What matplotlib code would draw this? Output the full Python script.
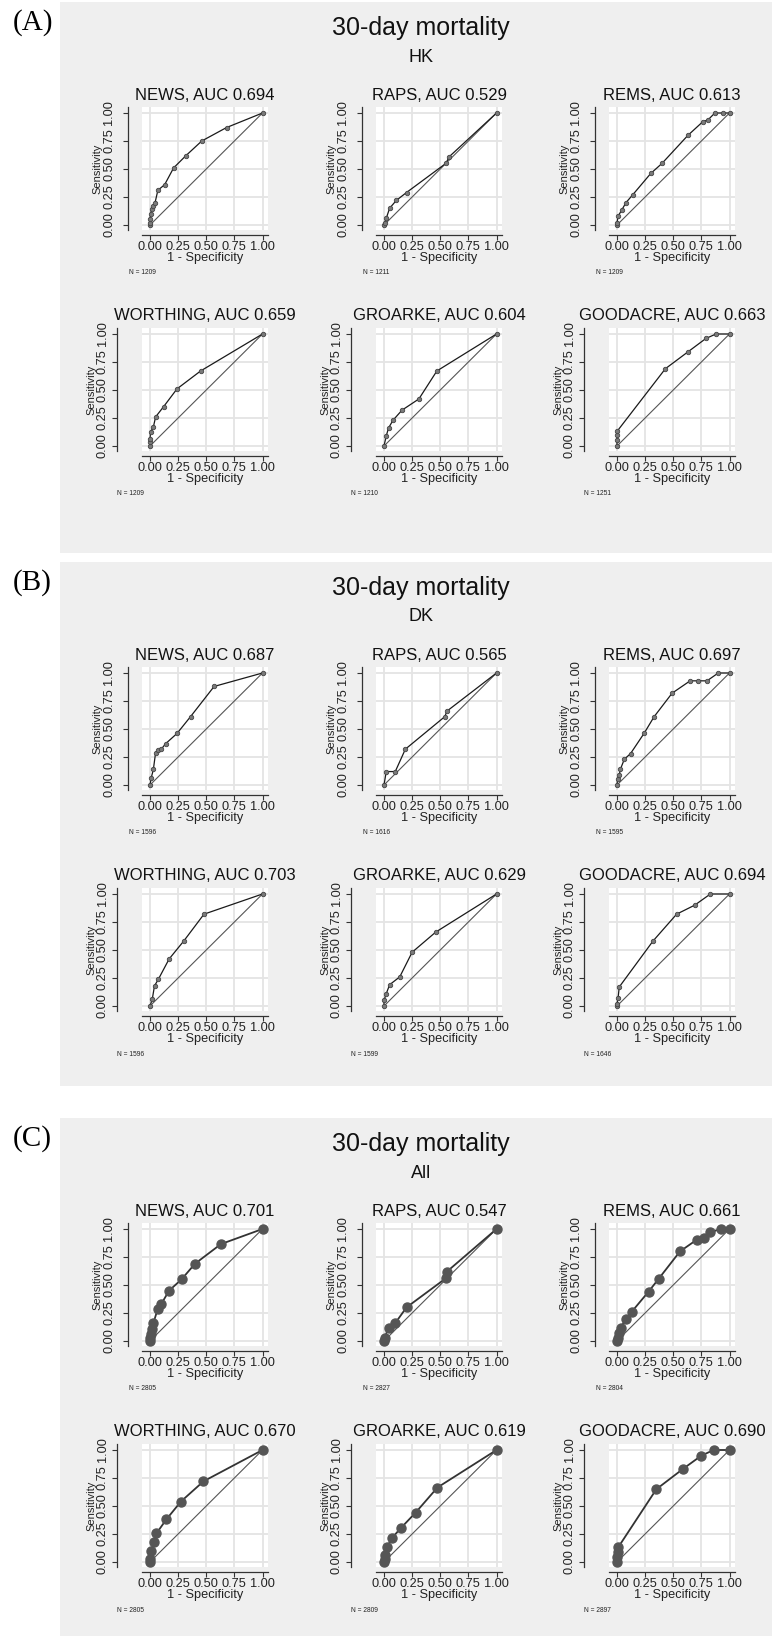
import matplotlib
matplotlib.use("Agg")
import matplotlib.pyplot as plt
from matplotlib.patches import Rectangle

# ---- data ----
scores = ['NEWS', 'RAPS', 'REMS', 'WORTHING', 'GROARKE', 'GOODACRE']

auc_hk = [0.694, 0.529, 0.613, 0.659, 0.604, 0.663]
n_hk = [1209, 1211, 1209, 1209, 1210, 1251]
auc_dk = [0.687, 0.565, 0.697, 0.703, 0.629, 0.694]
n_dk = [1596, 1616, 1595, 1596, 1599, 1646]
auc_all = [0.701, 0.547, 0.661, 0.670, 0.619, 0.690]
n_all = [2805, 2827, 2804, 2805, 2809, 2897]

# (1 - specificity, sensitivity)
hk_news = ([0, 0, 0, 0.005, 0.015, 0.03, 0.045, 0.07, 0.13, 0.21, 0.32, 0.46, 0.68, 1],
           [0, 0.02, 0.05, 0.1, 0.14, 0.17, 0.2, 0.31, 0.36, 0.51, 0.62, 0.75, 0.87, 1])
hk_raps = ([0, 0.005, 0.02, 0.05, 0.11, 0.2, 0.55, 0.58, 1],
           [0, 0.02, 0.06, 0.15, 0.22, 0.29, 0.55, 0.61, 1])
hk_rems = ([0, 0, 0.01, 0.04, 0.08, 0.14, 0.3, 0.4, 0.63, 0.76, 0.81, 0.87, 0.94, 1],
           [0, 0.02, 0.08, 0.13, 0.2, 0.27, 0.46, 0.55, 0.8, 0.92, 0.94, 1, 1, 1])
hk_worthing = ([0, 0, 0, 0.005, 0.03, 0.05, 0.12, 0.24, 0.45, 1],
               [0, 0.035, 0.06, 0.125, 0.17, 0.26, 0.35, 0.51, 0.67, 1])
hk_groarke = ([0, 0.02, 0.04, 0.08, 0.16, 0.31, 0.47, 1],
              [0, 0.09, 0.16, 0.23, 0.32, 0.42, 0.67, 1])
hk_goodacre = ([0, 0, 0, 0, 0.43, 0.63, 0.79, 0.88, 1],
               [0, 0.05, 0.1, 0.13, 0.69, 0.84, 0.96, 1, 1])

dk_news = ([0, 0.01, 0.03, 0.05, 0.075, 0.1, 0.14, 0.24, 0.36, 0.57, 1],
           [0, 0.06, 0.14, 0.29, 0.31, 0.32, 0.37, 0.46, 0.61, 0.88, 1])
dk_raps = ([0, 0.02, 0.1, 0.19, 0.54, 0.56, 1],
           [0, 0.12, 0.12, 0.32, 0.61, 0.66, 1])
dk_rems = ([0, 0.005, 0.02, 0.03, 0.065, 0.12, 0.24, 0.33, 0.49, 0.65, 0.72, 0.8, 0.9, 1],
           [0, 0.05, 0.09, 0.14, 0.23, 0.28, 0.46, 0.61, 0.82, 0.93, 0.93, 0.93, 1, 1])
dk_worthing = ([0, 0.02, 0.04, 0.075, 0.17, 0.3, 0.48, 1],
               [0, 0.06, 0.18, 0.24, 0.42, 0.58, 0.82, 1])
dk_groarke = ([0, 0, 0.02, 0.05, 0.14, 0.25, 0.46, 1],
              [0, 0.05, 0.11, 0.19, 0.26, 0.48, 0.66, 1])
dk_goodacre = ([0, 0, 0.01, 0.02, 0.32, 0.53, 0.69, 0.83, 1],
               [0, 0.02, 0.075, 0.17, 0.58, 0.82, 0.9, 1, 1])

all_news = ([0, 0, 0.005, 0.015, 0.03, 0.07, 0.1, 0.17, 0.28, 0.4, 0.63, 1],
            [0, 0.03, 0.06, 0.11, 0.16, 0.29, 0.33, 0.45, 0.55, 0.69, 0.865, 1])
all_raps = ([0, 0.005, 0.04, 0.1, 0.2, 0.55, 0.56, 1],
            [0, 0.025, 0.12, 0.16, 0.3, 0.56, 0.62, 1])
all_rems = ([0, 0.005, 0.02, 0.035, 0.08, 0.13, 0.28, 0.37, 0.56, 0.71, 0.77, 0.83, 0.92, 1],
            [0, 0.03, 0.07, 0.12, 0.2, 0.26, 0.44, 0.555, 0.8, 0.905, 0.92, 0.97, 1, 1])
all_worthing = ([0, 0, 0.012, 0.036, 0.057, 0.145, 0.275, 0.475, 1],
                [0, 0.03, 0.1, 0.18, 0.255, 0.38, 0.54, 0.72, 1])
all_groarke = ([0, 0.005, 0.01, 0.03, 0.067, 0.147, 0.28, 0.475, 1],
               [0, 0.03, 0.06, 0.135, 0.21, 0.3, 0.44, 0.665, 1])
all_goodacre = ([0, 0, 0.005, 0.01, 0.35, 0.585, 0.75, 0.86, 1],
                [0, 0.045, 0.09, 0.13, 0.65, 0.83, 0.95, 1, 1])

diag = [0, 1]
ticks = [0, 0.25, 0.5, 0.75, 1]
tick_labels = ['0.00', '0.25', '0.50', '0.75', '1.00']

panels = [
    ('(A)', 'HK', [hk_news, hk_raps, hk_rems, hk_worthing, hk_groarke, hk_goodacre], auc_hk, n_hk),
    ('(B)', 'DK', [dk_news, dk_raps, dk_rems, dk_worthing, dk_groarke, dk_goodacre], auc_dk, n_dk),
    ('(C)', 'All', [all_news, all_raps, all_rems, all_worthing, all_groarke, all_goodacre], auc_all, n_all),
]

# ---- layout (pixels) ----
W, H = 772, 1636
panel_top = [2, 562, 1118]
panel_bottom = [553, 1086, 1636]
col_x0 = [150, 384, 617]
ux, uy = 112.5, 112
row_y0 = [223, 444]
fam = ['Liberation Sans', 'DejaVu Sans']


def fx(px):
    return px / W


def fy(py):
    return 1 - py / H


fig = plt.figure(figsize=(7.72, 16.36), dpi=100)
fig.patch.set_facecolor('white')

for p, (tag, region, curves, aucs, ns) in enumerate(panels):
    T = panel_top[p]
    big = p == 2

    fig.add_artist(Rectangle((fx(60), fy(panel_bottom[p])), fx(772) - fx(60),
                             (panel_bottom[p] - T) / H, transform=fig.transFigure,
                             facecolor='#efefef', edgecolor='none', zorder=0))
    fig.text(fx(13), fy(T + 21), tag, family='Liberation Serif', fontsize=21,
             ha='left', va='center')
    fig.text(fx(421), fy(T + 26), '30-day mortality', family=fam, fontsize=18,
             ha='center', va='center', color='#111')
    fig.text(fx(421), fy(T + 55), region, family=fam, fontsize=13,
             ha='center', va='center', color='#111')

    for i, name in enumerate(scores):
        r, c = divmod(i, 3)
        x0 = col_x0[c]
        y0 = T + row_y0[r]
        left = x0 - 0.07 * ux
        right = x0 + 1.05 * ux
        top = y0 - 1.05 * uy
        bottom = y0 + 0.045 * uy
        ax = fig.add_axes([fx(left), fy(bottom), (right - left) / W, (bottom - top) / H])
        ax.set_facecolor('white')
        ax.set_xlim(-0.07, 1.05)
        ax.set_ylim(-0.045, 1.05)
        for s in ['top', 'right']:
            ax.spines[s].set_visible(False)
        ax.spines['left'].set_position(('outward', 10 if r == 0 else 18))
        ax.spines['bottom'].set_position(('outward', 3.5))
        for s in ['left', 'bottom']:
            ax.spines[s].set_linewidth(0.9)
            ax.spines[s].set_color('#333')
        ax.set_xticks(ticks)
        ax.set_xticklabels(tick_labels)
        ax.set_yticks(ticks)
        ax.set_yticklabels(tick_labels, rotation=90, va='center')
        ax.tick_params(direction='out', length=3.5, width=0.8, color='#333',
                       labelsize=9.2, labelcolor='#222', labelfontfamily=fam)
        ax.tick_params(axis='x', pad=1)
        ax.tick_params(axis='y', pad=6 if r == 0 else 2.5)
        ax.grid(True, color='#e4e4e4', lw=1.3)
        ax.set_axisbelow(True)

        fpr, tpr = curves[i]
        ax.plot(diag, diag, color='#555', lw=0.8, zorder=2)
        if big:
            ax.plot(fpr, tpr, color='#333', lw=1.3, marker='o', ms=6.5,
                    mfc='#555', mec='#555', zorder=3, clip_on=False)
        else:
            ax.plot(fpr, tpr, color='#1a1a1a', lw=0.9, marker='o', ms=3.2,
                    mfc='#7a7a7a', mec='#444', mew=0.6, zorder=3, clip_on=False)

        cx = x0 + 0.49 * ux
        fig.text(fx(cx), fy(y0 - 130 if r == 0 else y0 - 131), f'{name}, AUC {aucs[i]:.3f}',
                 family=fam, fontsize=12, ha='center', va='center', color='#111')
        fig.text(fx(cx), fy(y0 + 33), '1 - Specificity', family=fam, fontsize=9.2,
                 ha='center', va='center', color='#222')
        fig.text(fx(x0 - (53 if r == 0 else 59)), fy(y0 - 0.5 * uy), 'Sensitivity',
                 family=fam, fontsize=8, rotation=90, ha='center', va='center',
                 color='#222')
        fig.text(fx(x0 - (21 if r == 0 else 33)), fy(y0 + 48), f'N = {ns[i]}',
                 family=fam, fontsize=4.8, ha='left', va='center', color='#222')

fig.savefig('out.png', dpi=100)
